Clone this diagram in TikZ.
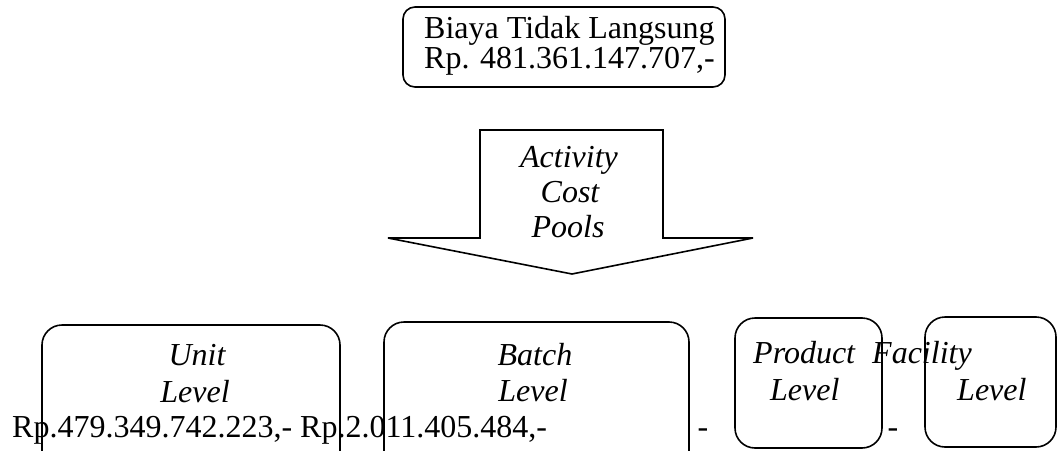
\documentclass[tikz,border=0pt]{standalone}
\usepackage{fontspec}
\setmainfont{Liberation Serif}
\begin{document}
\begin{tikzpicture}[x=1pt,y=-1pt,
  boxline/.style={draw, line width=1.6pt},
  txtw/.style={font=\fontsize{32}{36}\selectfont, inner sep=0pt, anchor=base west},
  txtc/.style={font=\fontsize{32}{36}\selectfont, inner sep=0pt, anchor=base},
  itw/.style={txtw, font=\fontsize{32}{36}\selectfont\itshape},
  itc/.style={txtc, font=\fontsize{32}{36}\selectfont\itshape}]
\useasboundingbox (0,0) rectangle (1058,450);
\begin{scope}
\clip (0,0) rectangle (1058,450);
% top box
\draw[boxline, rounded corners=12pt] (403,7) rectangle (725,87);
% arrow
\draw[boxline, line join=miter] (480,130) -- (663,130) -- (663,238) -- (753,238) -- (572,274) -- (388,238) -- (480,238) -- cycle;
% bottom boxes
\draw[boxline, rounded corners=20pt] (42,325) rectangle (340,480);
\draw[boxline, rounded corners=20pt] (384,322) rectangle (689,480);
\draw[boxline, rounded corners=20pt] (735,318) rectangle (882,448);
\draw[boxline, rounded corners=20pt] (925,317) rectangle (1056,447);
\end{scope}
% texts
\node[txtw] (t1) at (424,38) {Biaya Tidak Langsung};
\node[txtw] (t2) at (424,68) {Rp. 481.361.147.707,-};
\node[itc] (a1) at (569,167) {Activity};
\node[itc] (a2) at (570,202) {Cost};
\node[itc] (a3) at (568,237) {Pools};
\node[itc] (u1) at (197,365) {Unit};
\node[itc] (u2) at (195,402) {Level};
\node[itc] (b1) at (535,365) {Batch};
\node[itc] (b2) at (533,401) {Level};
\node[txtw] (rp) at (12,437) {Rp.479.349.742.223,- Rp.2.011.405.484,-};
\node[txtc] (d1) at (703,437) {-};
\node[txtc] (d2) at (893,437) {-};
\node[itw] (p1) at (753,363) {Product};
\node[itw] (f1) at (872,363) {Facility};
\node[itw] (p2) at (770,400) {Level};
\node[itw] (f2) at (957,400) {Level};
\end{tikzpicture}
\end{document}
